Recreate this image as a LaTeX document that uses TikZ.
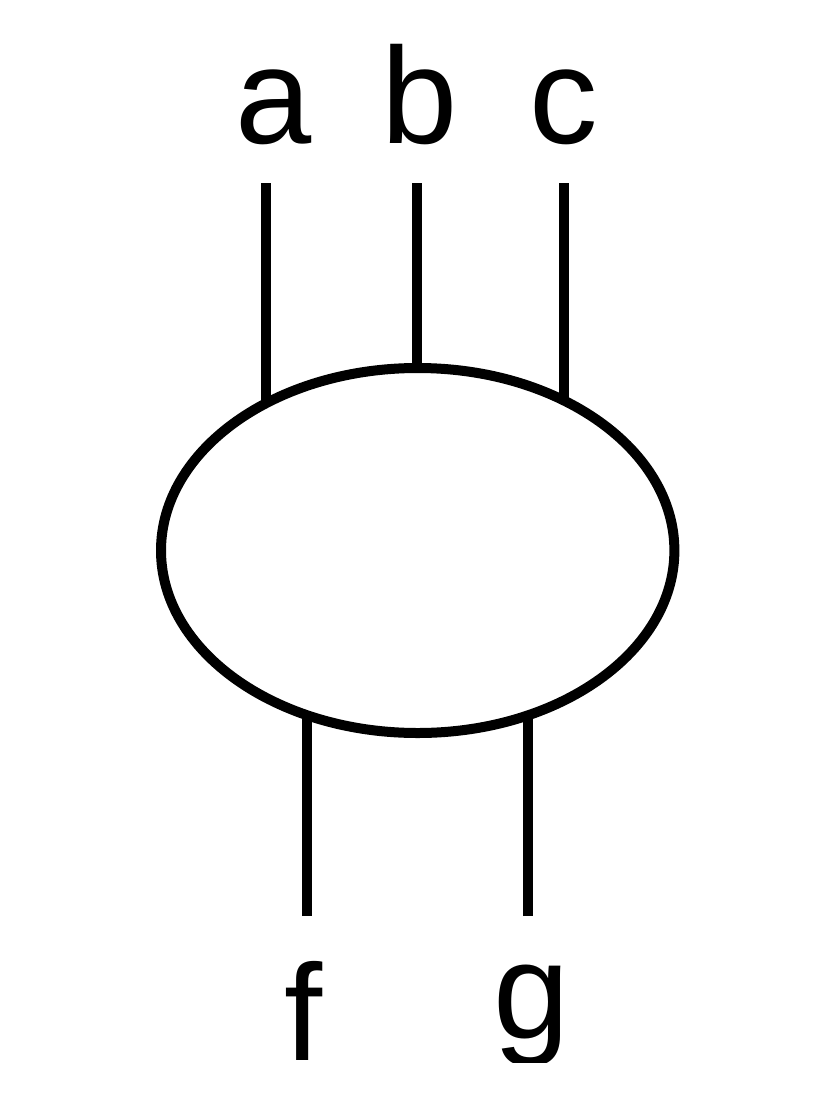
\documentclass[tikz,border=0pt]{standalone}
\usepackage{fontspec}
\setmainfont{Liberation Sans}
\usetikzlibrary{shapes.geometric,backgrounds}
\tikzset{
  lbl/.style={inner sep=0pt, outer sep=0pt, anchor=base, font=\fontsize{137}{137}\selectfont},
  wire/.style={line width=9.5pt, line cap=butt, black},
  blob/.style={ellipse, draw=black, fill=white, line width=10pt, inner sep=0pt, outer sep=0pt,
    minimum width=513.4pt, minimum height=365pt}
}
\begin{document}
\begin{tikzpicture}[x=1pt,y=-1pt]
\useasboundingbox (0,0) rectangle (840,1103);
% labels
\node[lbl] (la) at (274,143) {a};
\node[lbl] (lb) at (420,143) {b};
\node[lbl] (lc) at (563.4,143) {c};
\node[lbl] (lf) at (304,1060) {f};
\begin{scope}
  \clip (0,0) rectangle (840,1062.5);
  \node[lbl] (lg) at (531.3,1038) {g};
\end{scope}
% wire ends
\coordinate (ta) at (266,183);
\coordinate (tb) at (417,183);
\coordinate (tc) at (564,183);
\coordinate (bf) at (307,916);
\coordinate (bg) at (528,916);
% ellipse
\node[blob] (E) at (417.7,550.5) {};
\begin{scope}[on background layer]
  \fill[white] (0,0) rectangle (840,1103);
  \draw[wire] (ta) -- (ta |- E.center);
  \draw[wire] (tb) -- (tb |- E.center);
  \draw[wire] (tc) -- (tc |- E.center);
  \draw[wire] (bf) -- (bf |- E.center);
  \draw[wire] (bg) -- (bg |- E.center);
\end{scope}
\end{tikzpicture}
\end{document}
